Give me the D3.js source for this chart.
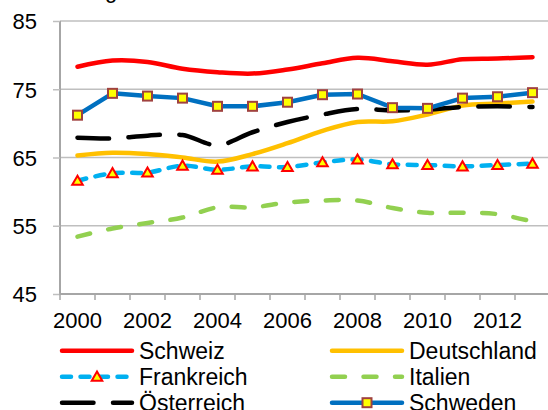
<!DOCTYPE html>
<html>
<head>
<meta charset="utf-8">
<script src="https://cdn.jsdelivr.net/npm/d3@7"></script>
<style>
  body { margin: 0; background: #fff; }
  svg { display: block; font-family: "Liberation Sans", Arial, sans-serif; }
</style>
</head>
<body>
<svg id="chart" width="548" height="410"></svg>
<script>
// years on the category axis
const years = [2000, 2001, 2002, 2003, 2004, 2005, 2006, 2007, 2008, 2009, 2010, 2011, 2012, 2013];
const yTicks = [45, 55, 65, 75, 85];
const xLabels = [2000, 2002, 2004, 2006, 2008, 2010, 2012];

// values
const schweiz     = [78.3, 79.2, 79.0, 78.0, 77.5, 77.3, 77.9, 78.8, 79.6, 79.1, 78.6, 79.4, 79.5, 79.7];
const deutschland = [65.3, 65.7, 65.5, 65.0, 64.4, 65.5, 67.1, 68.9, 70.2, 70.3, 71.3, 72.6, 72.9, 73.2];
const frankreich  = [61.6, 62.7, 62.8, 63.8, 63.2, 63.7, 63.6, 64.3, 64.7, 64.0, 63.9, 63.7, 63.9, 64.1];
const italien     = [53.4, 54.6, 55.4, 56.2, 57.7, 57.7, 58.4, 58.7, 58.7, 57.6, 56.9, 56.9, 56.7, 55.6];
const oesterreich = [67.9, 67.8, 68.2, 68.3, 66.8, 68.7, 70.2, 71.3, 72.1, 71.9, 72.0, 72.4, 72.5, 72.4];
const schweden    = [71.2, 74.4, 74.0, 73.7, 72.5, 72.5, 73.1, 74.2, 74.3, 72.3, 72.2, 73.7, 73.9, 74.5];

const series = [
    { name: "Schweiz",     values: schweiz,     color: "#FF0000", dash: null,        marker: null,       smooth: true },
    { name: "Deutschland", values: deutschland, color: "#FFC000", dash: null,        marker: null,       smooth: true },
    { name: "Frankreich",  values: frankreich,  color: "#00B0F0", dash: "9,9.5",     marker: "triangle", smooth: true },
    { name: "Italien",     values: italien,     color: "#92D050", dash: "13,18.5",   marker: null,       smooth: true },
    { name: "Österreich",  values: oesterreich, color: "#000000", dash: "31.5,19.5", marker: null,       smooth: true },
    { name: "Schweden",    values: schweden,    color: "#0070C0", dash: null,        marker: "square",   smooth: false }
];

const svg = d3.select("#chart");
const plot = { left: 60, right: 550, top: 21, bottom: 294 };

const x = d3.scaleBand().domain(years).range([plot.left, plot.right]).padding(0);
const y = d3.scaleLinear().domain([45, 85]).range([plot.bottom, plot.top]);
const cx = d => x(d) + x.bandwidth() / 2;

// cropped title, only the descender shows
svg.append("text")
    .attr("x", 111).attr("y", -2)
    .attr("text-anchor", "middle")
    .style("font-size", "22px")
    .text("g");

// gridlines
svg.append("g")
    .selectAll("line")
    .data(yTicks.slice(1))
    .join("line")
    .attr("x1", plot.left).attr("x2", 548)
    .attr("y1", d => y(d)).attr("y2", d => y(d))
    .attr("stroke", "#BFBFBF")
    .attr("stroke-width", 1.5);

// y axis
const yAxis = svg.append("g")
    .attr("transform", `translate(${plot.left},0)`)
    .call(d3.axisLeft(y).tickValues(yTicks).tickSize(7).tickPadding(16).tickSizeOuter(0));
yAxis.select(".domain").attr("stroke", "#A6A6A6").attr("stroke-width", 2);
yAxis.selectAll(".tick line").attr("stroke", "#BFBFBF").attr("stroke-width", 1.5);
yAxis.selectAll("text").style("font-size", "22px").attr("fill", "#000").attr("dy", "0.36em");
yAxis.select(".domain").attr("d", `M0,${plot.top}V${plot.bottom}`);

// x axis
const xAxis = svg.append("g")
    .attr("transform", `translate(0,${plot.bottom})`)
    .call(d3.axisBottom(x).tickValues(xLabels).tickSize(0).tickFormat(d3.format("d")));
xAxis.select(".domain").attr("d", `M${plot.left},0H548`).attr("stroke", "#A6A6A6").attr("stroke-width", 2);
xAxis.selectAll("text").style("font-size", "22px").attr("fill", "#000").attr("y", 34).attr("dy", null);

// tick marks between categories
svg.append("g")
    .selectAll("line")
    .data(years)
    .join("line")
    .attr("x1", d => x(d)).attr("x2", d => x(d))
    .attr("y1", plot.bottom).attr("y2", plot.bottom + 6)
    .attr("stroke", "#A6A6A6")
    .attr("stroke-width", 1.5);

function drawMarker(g, type, px, py) {
    if (type === "square") {
        g.append("rect")
            .attr("x", px - 4.5).attr("y", py - 4.5)
            .attr("width", 9).attr("height", 9)
            .attr("fill", "#FFFF00")
            .attr("stroke", "#A0413F")
            .attr("stroke-width", 2);
    } else if (type === "triangle") {
        g.append("path")
            .attr("d", d3.symbol().type(d3.symbolTriangle).size(48)())
            .attr("transform", `translate(${px},${py + 1})`)
            .attr("fill", "#FFFF00")
            .attr("stroke", "#FF0000")
            .attr("stroke-width", 2);
    }
}

// lines
const lines = svg.append("g");
series.forEach(s => {
    const line = d3.line()
        .x((d, i) => cx(years[i]))
        .y(d => y(d))
        .curve(s.smooth ? d3.curveCatmullRom.alpha(0.5) : d3.curveLinear);
    lines.append("path")
        .datum(s.values)
        .attr("d", line)
        .attr("fill", "none")
        .attr("stroke", s.color)
        .attr("stroke-width", 4.5)
        .attr("stroke-linecap", "round")
        .attr("stroke-linejoin", "round")
        .attr("stroke-dasharray", s.dash);
    if (s.marker) {
        const mg = lines.append("g");
        s.values.forEach((v, i) => drawMarker(mg, s.marker, cx(years[i]), y(v)));
    }
});

// legend, two columns
const legend = svg.append("g");
const colX = [62, 332];
series.forEach((s, i) => {
    const lx = colX[i % 2];
    const ly = 350.7 + Math.floor(i / 2) * 26;
    legend.append("line")
        .attr("x1", lx).attr("x2", lx + 70)
        .attr("y1", ly).attr("y2", ly)
        .attr("stroke", s.color)
        .attr("stroke-width", 4.5)
        .attr("stroke-linecap", "round")
        .attr("stroke-dasharray", s.dash);
    if (s.marker) drawMarker(legend, s.marker, lx + 35, ly);
    legend.append("text")
        .attr("x", lx + 77).attr("y", ly + 8)
        .style("font-size", "23px")
        .text(s.name);
});
</script>
</body>
</html>
